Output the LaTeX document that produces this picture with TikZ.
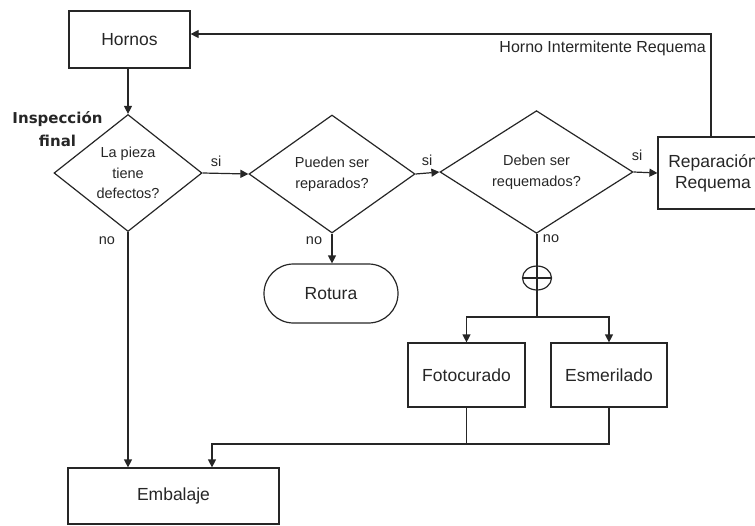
\documentclass[tikz,border=0pt]{standalone}
\usepackage{fontspec}
\setmainfont{Liberation Sans}
\newfontfamily\headfont{DejaVu Sans}
\usetikzlibrary{shapes.geometric,shapes.misc,arrows.meta}
\definecolor{ink}{HTML}{262626}
\tikzset{
  wire/.style={draw=ink, line width=1.2pt, line join=miter},
  flow/.style={wire, -{Triangle[length=8pt,width=8pt]}},
  box/.style={draw=ink, line width=1.2pt, rectangle, inner sep=0pt, align=center,
    text=ink, font=\fontsize{17.5}{21}\selectfont},
  decision/.style={draw=ink, line width=1.2pt, diamond, inner sep=0pt, align=center,
    text=ink, font=\fontsize{14.5}{20.5}\selectfont},
  tag/.style={inner sep=0pt, text=ink, font=\fontsize{14.5}{17}\selectfont},
}
\begin{document}
\begin{tikzpicture}[x=1pt, y=-1pt]
\useasboundingbox (0,0) rectangle (755,525);
\clip (0,0) rectangle (755,525);

% process boxes
\node[box, minimum width=121pt, minimum height=57pt] (hornos) at (129.5,39.5) {Hornos};
\node[box, minimum width=211pt, minimum height=56pt] (emb) at (173.5,496) {Embalaje};
\node[box, minimum width=110pt, minimum height=72pt] (rep) at (713,173) {Reparación\\Requema};
\node[box, minimum width=117pt, minimum height=64pt] (foto) at (466.5,375) {Fotocurado};
\node[box, minimum width=116pt, minimum height=64pt] (esm) at (609,375) {Esmerilado};
\node[box, rounded rectangle, minimum width=134pt, minimum height=59pt] (rot) at (331,293.5) {Rotura};

% decisions
\node[decision, minimum width=148pt, minimum height=117pt] (d1) at (128,173) {La pieza\\tiene\\defectos?};
\node[decision, minimum width=166pt, minimum height=118pt] (d2) at (332,174) {Pueden ser\\reparados?};
\node[decision, minimum width=193pt, minimum height=117pt] (d3) at (536.5,172) {Deben ser\\requemados?};

% stage heading
\node[inner sep=0pt, align=center, text=ink, font=\headfont\bfseries\fontsize{15}{23}\selectfont]
  (insp) at (57.5,129.5) {Inspección\\final};

% parallel split symbol
\node[ellipse, draw=ink, line width=1.2pt, minimum width=29pt, minimum height=24pt, inner sep=0pt] (par) at (537,278) {};
\draw[wire] (par.west) -- (par.east);
\draw[wire] (par.north) -- (par.south);

% junction points
\coordinate (fb) at (711,34);
\coordinate (sp) at (537,317);
\coordinate (mg) at (212,444);

% connectors
\draw[flow] (hornos.south -| d1.north) -- (d1.north);
\draw[flow] (d1.east) -- (d2.west);
\draw[flow] (d2.east) -- (d3.west);
\draw[flow] (d3.east) -- (rep.west);
\draw[flow] (d2.south) -- (d2.south |- rot.north);
\draw[flow] (d1.south) -- (d1.south |- emb.north);
\draw[flow] (rep.north -| fb) -- (fb) -- (fb -| hornos.east);
\draw[wire] (d3.south -| par.north) -- (par.north);
\draw[wire] (par.south) -- (sp);
\draw[flow] (sp) -| (foto.north);
\draw[flow] (sp) -| (esm.north);
\draw[wire] (foto.south) -- (foto.south |- mg);
\draw[flow] (esm.south) |- (mg) -- (mg |- emb.north);

% branch labels
\node[tag] (s1) at (216,161) {si};
\node[tag] (s2) at (427,160) {si};
\node[tag] (s3) at (637,155) {si};
\node[tag] (n1) at (107,241) {no};
\node[tag] (n2) at (314,241) {no};
\node[tag] (n3) at (551,239) {no};
\node[tag, anchor=east, font=\fontsize{16}{19}\selectfont] (fbl) at (706,48) {Horno Intermitente Requema};
\end{tikzpicture}
\end{document}
